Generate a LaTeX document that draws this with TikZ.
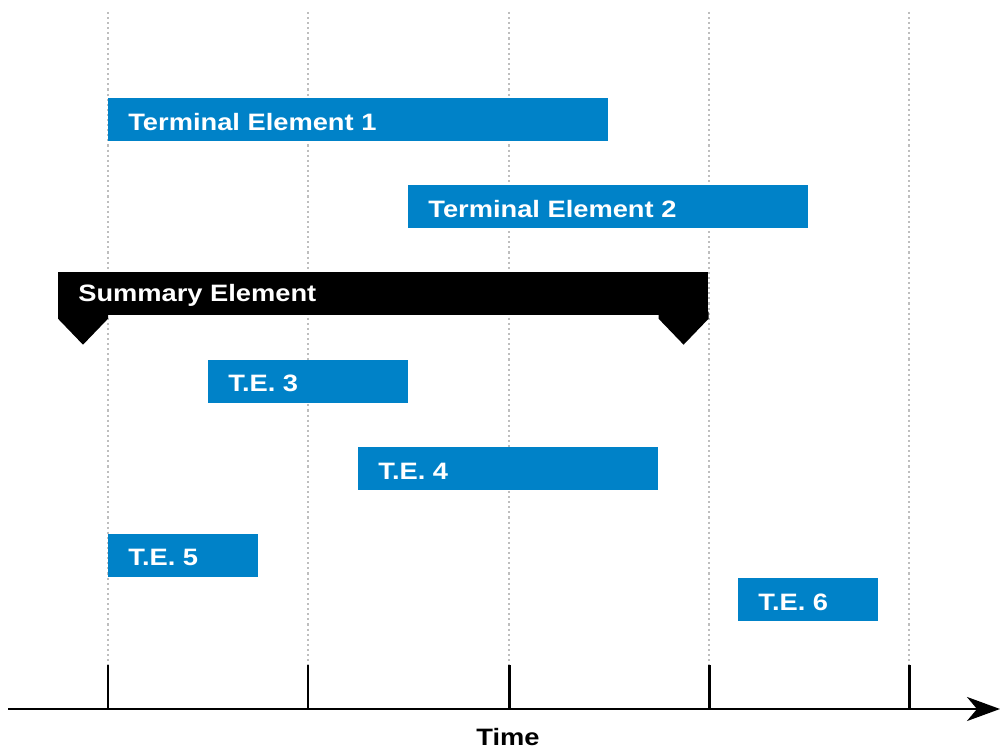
\documentclass[tikz,border=0pt]{standalone}
\usepackage{fontspec}
\newfontfamily\barfont[FakeStretch=1.15]{Liberation Sans}
\usetikzlibrary{arrows.meta}
\definecolor{teblue}{RGB}{0,130,200}
\definecolor{gridgray}{RGB}{190,190,190}
\tikzset{
    bar/.style={fill=teblue, draw=none, minimum height=0.86cm, inner sep=0pt, anchor=north west},
    sumbar/.style={bar, fill=black},
    barlabel/.style={text=white, font=\barfont\bfseries\fontsize{13.5pt}{16pt}\selectfont, anchor=west, xshift=0.4cm, yshift=-0.04cm, inner sep=0pt},
    gridline/.style={gridgray, line width=0.8pt, dash pattern=on 1.2pt off 1.7pt},
    tick/.style={line width=1.7pt}
}
\begin{document}
\begin{tikzpicture}[x=0.02cm, y=-0.02cm]
    \useasboundingbox (0,0) rectangle (1000,749);

    % Draw dotted time grid and ticks
    \foreach \t/\x in {0/108, 1/308, 2/509, 3/709, 4/909} {
        \coordinate (g\t) at (\x,12);
        \coordinate (k\t) at (\x,665);
        \coordinate (a\t) at (\x,709);
        \draw[gridline] (g\t) -- (k\t);
        \draw[tick] (k\t) -- (a\t);
    }

    % Draw time axis
    \coordinate (axstart) at (8,709);
    \coordinate (axend) at (1000,709);
    \draw[line width=1.7pt, -{Stealth[length=0.66cm, width=0.48cm, inset=0.2cm]}] (axstart) -- (axend);
    \node[font=\barfont\bfseries\fontsize{13.5pt}{16pt}\selectfont, inner sep=0pt] (time) at (508,737) {Time};

    % Draw terminal elements
    \node[bar, minimum width=10cm] (te1) at (108,98) {};
    \node[barlabel] at (te1.west) {Terminal Element 1};
    \node[bar, minimum width=8cm] (te2) at (408,185) {};
    \node[barlabel] at (te2.west) {Terminal Element 2};

    % Draw summary element with its end markers
    \node[sumbar, minimum width=13cm] (sum) at (58,272) {};
    \node[barlabel] at (sum.west) {Summary Element};
    \fill (sum.south west) -- ++(0,-4) -- ++(50,0) -- ++(0,7) -- ++(-25,26) -- ++(-25,-26) -- cycle; % left marker
    \fill (sum.south east) -- ++(0,-4) -- ++(-50,0) -- ++(0,7) -- ++(25,26) -- ++(25,-26) -- cycle; % right marker

    % Draw the short terminal elements
    \node[bar, minimum width=4cm] (te3) at (208,360) {};
    \node[barlabel] at (te3.west) {T.E. 3};
    \node[bar, minimum width=6cm] (te4) at (358,447) {};
    \node[barlabel] at (te4.west) {T.E. 4};
    \node[bar, minimum width=3cm] (te5) at (108,534) {};
    \node[barlabel] at (te5.west) {T.E. 5};
    \node[bar, minimum width=2.8cm] (te6) at (738,578) {};
    \node[barlabel] at (te6.west) {T.E. 6};
\end{tikzpicture}
\end{document}
